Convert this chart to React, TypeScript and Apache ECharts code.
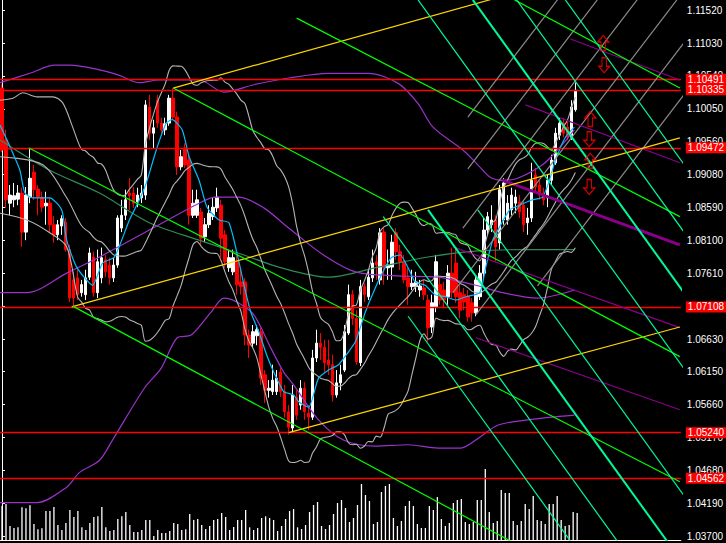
import React, { useEffect, useRef } from "react";
import * as echarts from "echarts";

// ---------- data ----------
// candles: [open, close, low, high]
const ohlc: number[][] = [
  [1.1036, 1.0944, 1.0941, 1.1042], [1.0959, 1.0870, 1.0858, 1.0974], [1.0865, 1.0877, 1.0847, 1.0892], [1.0870, 1.0876, 1.0859, 1.0895],
  [1.0871, 1.0880, 1.0862, 1.0892], [1.0880, 1.0822, 1.0800, 1.0888], [1.0822, 1.0877, 1.0810, 1.0889], [1.0874, 1.0902, 1.0865, 1.0947],
  [1.0911, 1.0885, 1.0870, 1.0922], [1.0886, 1.0874, 1.0847, 1.0892], [1.0874, 1.0859, 1.0852, 1.0882], [1.0861, 1.0865, 1.0833, 1.0882],
  [1.0865, 1.0833, 1.0821, 1.0873], [1.0833, 1.0818, 1.0806, 1.0846], [1.0818, 1.0833, 1.0810, 1.0840], [1.0831, 1.0842, 1.0818, 1.0847],
  [1.0837, 1.0796, 1.0793, 1.0843], [1.0796, 1.0724, 1.0718, 1.0803], [1.0751, 1.0724, 1.0711, 1.0763], [1.0754, 1.0729, 1.0721, 1.0766],
  [1.0732, 1.0744, 1.0726, 1.0751], [1.0729, 1.0754, 1.0721, 1.0766], [1.0755, 1.0791, 1.0751, 1.0799], [1.0785, 1.0732, 1.0726, 1.0793],
  [1.0732, 1.0778, 1.0724, 1.0796], [1.0754, 1.0784, 1.0746, 1.0799], [1.0781, 1.0763, 1.0755, 1.0788], [1.0773, 1.0754, 1.0744, 1.0784],
  [1.0754, 1.0773, 1.0748, 1.0784], [1.0773, 1.0843, 1.0769, 1.0847], [1.0828, 1.0847, 1.0822, 1.0870], [1.0847, 1.0870, 1.0840, 1.0885],
  [1.0880, 1.0876, 1.0855, 1.0902], [1.0880, 1.0865, 1.0858, 1.0889], [1.0867, 1.0877, 1.0859, 1.0888], [1.0873, 1.0880, 1.0865, 1.0892],
  [1.0877, 1.1011, 1.0870, 1.1018], [1.1008, 1.0969, 1.0959, 1.1026], [1.0969, 1.0977, 1.0947, 1.0989], [1.1018, 1.0984, 1.0977, 1.1026],
  [1.0984, 1.0974, 1.0969, 1.0992], [1.0974, 1.0983, 1.0966, 1.0992], [1.0984, 1.1021, 1.0980, 1.1026], [1.1021, 1.0993, 1.0989, 1.1036],
  [1.0993, 1.0919, 1.0907, 1.1001], [1.0919, 1.0934, 1.0914, 1.0944], [1.0947, 1.0922, 1.0917, 1.0954], [1.0929, 1.0847, 1.0833, 1.0937],
  [1.0847, 1.0865, 1.0843, 1.0885], [1.0847, 1.0870, 1.0843, 1.0885], [1.0852, 1.0813, 1.0803, 1.0858], [1.0815, 1.0833, 1.0807, 1.0843],
  [1.0833, 1.0850, 1.0828, 1.0862], [1.0845, 1.0859, 1.0840, 1.0873], [1.0858, 1.0874, 1.0852, 1.0888], [1.0862, 1.0813, 1.0784, 1.0870],
  [1.0818, 1.0778, 1.0769, 1.0825], [1.0769, 1.0784, 1.0763, 1.0796], [1.0763, 1.0784, 1.0758, 1.0796], [1.0778, 1.0744, 1.0729, 1.0788],
  [1.0748, 1.0741, 1.0729, 1.0766], [1.0748, 1.0669, 1.0654, 1.0754], [1.0669, 1.0654, 1.0635, 1.0677], [1.0657, 1.0674, 1.0650, 1.0684],
  [1.0668, 1.0677, 1.0654, 1.0684], [1.0674, 1.0605, 1.0595, 1.0680], [1.0610, 1.0587, 1.0568, 1.0617], [1.0587, 1.0590, 1.0576, 1.0602],
  [1.0585, 1.0602, 1.0580, 1.0625], [1.0585, 1.0605, 1.0580, 1.0617], [1.0614, 1.0585, 1.0577, 1.0620], [1.0585, 1.0555, 1.0546, 1.0595],
  [1.0555, 1.0532, 1.0521, 1.0565], [1.0531, 1.0580, 1.0525, 1.0595], [1.0577, 1.0550, 1.0543, 1.0587], [1.0565, 1.0590, 1.0558, 1.0602],
  [1.0590, 1.0555, 1.0543, 1.0599], [1.0553, 1.0547, 1.0528, 1.0565], [1.0547, 1.0635, 1.0543, 1.0647], [1.0635, 1.0657, 1.0629, 1.0677],
  [1.0657, 1.0651, 1.0632, 1.0672], [1.0651, 1.0628, 1.0614, 1.0662], [1.0632, 1.0625, 1.0610, 1.0662], [1.0625, 1.0580, 1.0570, 1.0640],
  [1.0580, 1.0598, 1.0576, 1.0617], [1.0598, 1.0610, 1.0587, 1.0625], [1.0617, 1.0674, 1.0614, 1.0684], [1.0672, 1.0729, 1.0669, 1.0744],
  [1.0729, 1.0694, 1.0684, 1.0736], [1.0694, 1.0629, 1.0625, 1.0706], [1.0628, 1.0741, 1.0623, 1.0751], [1.0741, 1.0729, 1.0718, 1.0746],
  [1.0726, 1.0755, 1.0721, 1.0766], [1.0754, 1.0776, 1.0748, 1.0796], [1.0778, 1.0773, 1.0751, 1.0788], [1.0751, 1.0821, 1.0744, 1.0828],
  [1.0822, 1.0769, 1.0744, 1.0828], [1.0769, 1.0773, 1.0751, 1.0796], [1.0770, 1.0807, 1.0751, 1.0818], [1.0821, 1.0793, 1.0781, 1.0828],
  [1.0793, 1.0778, 1.0766, 1.0803], [1.0778, 1.0751, 1.0746, 1.0788], [1.0754, 1.0741, 1.0714, 1.0769], [1.0741, 1.0746, 1.0736, 1.0766],
  [1.0741, 1.0748, 1.0733, 1.0763], [1.0736, 1.0742, 1.0726, 1.0751], [1.0739, 1.0729, 1.0721, 1.0751], [1.0721, 1.0680, 1.0659, 1.0729],
  [1.0681, 1.0717, 1.0672, 1.0729], [1.0711, 1.0778, 1.0703, 1.0788], [1.0744, 1.0721, 1.0714, 1.0754], [1.0736, 1.0721, 1.0709, 1.0748],
  [1.0726, 1.0761, 1.0714, 1.0773], [1.0761, 1.0732, 1.0724, 1.0799], [1.0776, 1.0726, 1.0717, 1.0799], [1.0732, 1.0706, 1.0694, 1.0744],
  [1.0729, 1.0718, 1.0706, 1.0739], [1.0726, 1.0696, 1.0689, 1.0736], [1.0717, 1.0702, 1.0689, 1.0724], [1.0702, 1.0751, 1.0697, 1.0758],
  [1.0726, 1.0761, 1.0721, 1.0773], [1.0761, 1.0825, 1.0754, 1.0843], [1.0825, 1.0845, 1.0818, 1.0852], [1.0833, 1.0840, 1.0822, 1.0862],
  [1.0840, 1.0800, 1.0778, 1.0847], [1.0806, 1.0885, 1.0796, 1.0892], [1.0840, 1.0895, 1.0833, 1.0902], [1.0840, 1.0865, 1.0833, 1.0877],
  [1.0855, 1.0877, 1.0847, 1.0888], [1.0865, 1.0874, 1.0850, 1.0885], [1.0867, 1.0852, 1.0843, 1.0877], [1.0862, 1.0833, 1.0822, 1.0870],
  [1.0836, 1.0843, 1.0818, 1.0858], [1.0843, 1.0899, 1.0837, 1.0925], [1.0907, 1.0889, 1.0882, 1.0917], [1.0892, 1.0877, 1.0870, 1.0899],
  [1.0880, 1.0870, 1.0862, 1.0888], [1.0873, 1.0899, 1.0859, 1.0907], [1.0899, 1.0929, 1.0892, 1.0937], [1.0925, 1.0969, 1.0922, 1.0977],
  [1.0966, 1.0984, 1.0959, 1.0992], [1.0984, 1.0969, 1.0963, 1.0992], [1.0978, 1.0963, 1.0959, 1.0986], [1.0963, 1.1008, 1.0959, 1.1018],
  [1.1004, 1.1033, 1.1001, 1.1044],
];

const volumes: number[] = [
  1020, 1080, 420, 360, 380, 980, 950, 1040, 480, 320,
  350, 870, 870, 990, 450, 300, 510, 900, 690, 870,
  380, 300, 510, 690, 710, 990, 380, 270, 300, 630,
  710, 840, 450, 240, 240, 300, 600, 600, 120, 300,
  210, 210, 270, 510, 480, 300, 320, 780, 600, 630,
  450, 330, 420, 600, 630, 810, 690, 300, 390, 600,
  600, 900, 380, 300, 360, 660, 710, 660, 600, 270,
  420, 630, 870, 930, 380, 330, 450, 840, 1050, 1140,
  420, 330, 450, 780, 1110,
  1200, 960, 540, 660, 1050, 1680, 1350, 1170, 480, 540,
  1440, 1620, 1680, 660, 420, 570, 1020, 1170, 1020, 480,
  360, 360, 1020, 900, 1290, 630, 420, 510, 1110, 1200,
  1230, 540, 480, 540, 1200, 1200, 2130, 840, 510, 570,
  1500, 1410, 1410, 570, 450, 570, 1080, 930, 1320, 600,
  570, 480, 1080, 1080, 1320, 600, 420, 450, 840, 810,
];

// axis ticks; the 1.07120 label is fully covered by the 1.07108 price box in the reference
const priceTicks: number[] = [
  1.037, 1.0419, 1.0468, 1.0517, 1.0566, 1.0615, 1.0663, 1.0712, 1.0761,
  1.081, 1.0859, 1.0908, 1.0956, 1.1005, 1.1054, 1.1103, 1.1152,
];
const priceLabels: number[] = [
  1.037, 1.0419, 1.0468, 1.0517, 1.0566, 1.0615, 1.0663, 1.0761,
  1.081, 1.0859, 1.0908, 1.0956, 1.1005, 1.1054, 1.1103, 1.1152,
];
const levelLines: number[] = [1.10491, 1.10335, 1.09472, 1.07108, 1.0524, 1.04562];

// fast moving average (blue), read points [bar, price]
const maFast: number[][] = [
  [-0.5, 1.0981], [2, 1.0949], [4.5, 1.0914], [5.75, 1.088], [7.75, 1.0873], [12, 1.0873], [15, 1.0855], [16.25, 1.081],
  [18.75, 1.077], [22.75, 1.0743], [25.25, 1.0776], [28.25, 1.0785], [32, 1.084], [34.5, 1.087], [36.25, 1.0895], [38.75, 1.0944],
  [41.25, 1.0984], [42.75, 1.0989], [45.25, 1.0974], [47, 1.0934], [49.5, 1.0899], [51.5, 1.0859], [54.5, 1.084], [57, 1.0836],
  [59.5, 1.0778], [60.75, 1.0744], [62.5, 1.0703], [64.5, 1.0674], [66.5, 1.0639], [68.25, 1.0614], [70.75, 1.0585], [73.25, 1.058],
  [74.5, 1.057], [77, 1.0562], [79.5, 1.0605], [82, 1.0617], [84.5, 1.0625], [86.5, 1.064], [88.75, 1.0659], [91.25, 1.0703],
  [93.75, 1.0739], [95.25, 1.0758], [97.75, 1.0784], [100, 1.0788], [102, 1.0769], [103.75, 1.0748], [106.25, 1.0743], [108.75, 1.0729],
  [111.5, 1.0726], [114, 1.0721], [116.5, 1.0726], [120, 1.0732], [121.5, 1.077], [123.25, 1.081], [125, 1.083], [127.5, 1.0855],
  [130, 1.0862], [133.25, 1.087], [135.75, 1.0874], [137.5, 1.0899], [139, 1.0929], [141.5, 1.0963], [143.75, 1.0978],
];

// Bollinger (grey) values on the first bars
const bbUpperStart: number[][] = [[-0.5, 1.1018], [2.75, 1.1021], [5.25, 1.1029], [8.75, 1.1023], [12.75, 1.1023], [15.25, 1.1014], [17.75, 1.0978]];
const bbMidStart: number[][] = [[-0.5, 1.0934], [10.25, 1.0922], [16.25, 1.0873]];
const bbLowerStart: number[][] = [[-0.5, 1.085], [6.25, 1.084], [12, 1.0821], [16.25, 1.08]];

// long bands (purple) read points
const purpleUpper: number[][] = [
  [-0.5, 1.1044], [7, 1.1058], [13.25, 1.107], [17, 1.107], [24.5, 1.1063], [29.5, 1.1055], [34.5, 1.1044], [39.5, 1.1048],
  [49.5, 1.1048], [55.75, 1.103], [63.25, 1.1041], [72, 1.1051], [82, 1.1058], [92, 1.1058], [99.5, 1.1043], [104.5, 1.1013],
  [108.25, 1.0978], [115.75, 1.0944], [119.5, 1.0922], [122.5, 1.0904], [125.75, 1.0899], [129.5, 1.0902], [135.75, 1.0922],
  [139.5, 1.0944], [143.75, 1.0974],
];
const purpleMid: number[][] = [
  [-0.5, 1.0732], [6.25, 1.0732], [16.25, 1.0761], [24.5, 1.0785], [37, 1.0825], [49.5, 1.0865], [53.75, 1.0874], [59.5, 1.0874],
  [65.75, 1.0858], [72, 1.0828], [80.75, 1.0788], [88.75, 1.0763], [99.5, 1.0757], [109.5, 1.0755], [119, 1.0743], [125.75, 1.0732],
  [134.5, 1.0724], [143.75, 1.0736],
];
const purpleLower: number[][] = [
  [-0.5, 1.042], [8.75, 1.042], [16.25, 1.0443], [19.5, 1.0465], [24.5, 1.0483], [27.75, 1.0513], [35.75, 1.059], [40, 1.062],
  [44, 1.0665], [47.5, 1.0669], [52.5, 1.0703], [55.75, 1.0724], [59, 1.0718], [63.25, 1.0699], [67.5, 1.065], [70.75, 1.0614],
  [73.25, 1.0595], [79.5, 1.0543], [85.75, 1.0513], [93.75, 1.0504], [102, 1.0506], [109.5, 1.0501], [115.25, 1.0501], [119, 1.0513],
  [124.5, 1.0535], [132, 1.0543], [143.75, 1.055],
];
const slowMa: number[][] = [
  [-0.5, 1.0959], [12, 1.0914], [24.5, 1.088], [37, 1.0836], [49.5, 1.081], [60.75, 1.0788], [69.5, 1.077], [82, 1.0755],
  [94.5, 1.077], [107, 1.0785], [119.5, 1.0794], [132, 1.0796], [143.75, 1.0796],
];

// drawn objects: each a segment [[bar, price], [bar, price]]
const yellowLines: number[][][] = [
  [[43, 1.1036], [170.25, 1.1246]],
  [[17.5, 1.0711], [170.25, 1.0962]],
  [[72, 1.0524], [170.25, 1.0681]],
];
const greenLines: number[][][] = [
  [[6.75, 1.0947], [170.25, 1.0451]],
  [[43, 1.1036], [170.25, 1.0637]],
  [[17.75, 1.0712], [170.25, 1.0228]],
  [[74, 1.114], [170.25, 1.0845]],
  [[128.75, 1.1167], [170.25, 1.1036]],
];
const cyanLines: number[][][] = [
  [[102, 1.0697], [153.5, 1.0275]],
  [[95.75, 1.0845], [165.25, 1.0275]],
  [[119.5, 1.0855], [190.25, 1.0275]],
  [[104.5, 1.1167], [213.25, 1.0275]],
  [[129.25, 1.1167], [238, 1.0275]],
  [[141.5, 1.1167], [250.25, 1.0275]],
];
const cyanThickLines: number[][][] = [
  [[107, 1.0855], [177.75, 1.0275]],
  [[118.25, 1.1167], [227, 1.0275]],
];
const greyLines: number[][][] = [
  [[117, 1.0993], [139.5, 1.1167]],
  [[117, 1.0916], [149.5, 1.1167]],
  [[115.75, 1.0828], [159.5, 1.1167]],
  [[113.25, 1.0732], [169.5, 1.1167]],
  [[119, 1.0699], [179.5, 1.1167]],
  [[134.5, 1.0742], [189.5, 1.1167]],
];
const purpleLines: number[][][] = [
  [[142.75, 1.1109], [170.25, 1.1048]],
  [[131.5, 1.1011], [170.25, 1.0925]],
  [[113.25, 1.08], [170.25, 1.068]],
  [[119, 1.0665], [170.25, 1.0558]],
];
const purpleThickLines: number[][][] = [[[125.75, 1.0899], [170.25, 1.0803]]];

const arrowsUp: number[][] = [[151, 1.1103], [147.75, 1.099], [147.75, 1.0928]];
const arrowsDown: number[][] = [[151.25, 1.107], [147.5, 1.096], [147.5, 1.0889]];

const SLOTS = 171;

export default function App() {
  const ref = useRef<HTMLDivElement>(null);
  useEffect(() => {
    document.body.style.margin = "0";
    document.body.style.background = "#000";
    const chart = echarts.init(ref.current!, null, { renderer: "svg" });
    const cats = Array.from({ length: SLOTS }, (_, i) => String(i));

    // grey Bollinger Bands (20, 2) from the closes
    const closes = ohlc.map((d) => d[1]);
    const bbU = [...bbUpperStart];
    const bbM = [...bbMidStart];
    const bbL = [...bbLowerStart];
    for (let i = 19; i < closes.length; i++) {
      const w = closes.slice(i - 19, i + 1);
      const m = w.reduce((a, b) => a + b, 0) / 20;
      const sd = Math.sqrt(w.reduce((a, b) => a + (b - m) * (b - m), 0) / 20);
      bbU.push([i, m + 2 * sd]);
      bbM.push([i, m]);
      bbL.push([i, m - 2 * sd]);
    }

    const line = (data: number[][], color: string, width = 1, z = 4, smooth: number | boolean = false) => ({
      type: "line",
      xAxisIndex: 1,
      yAxisIndex: 0,
      data,
      smooth,
      symbol: "none",
      showSymbol: false,
      silent: true,
      z,
      lineStyle: { color, width },
    });

    const segs = (list: number[][][], color: string, width = 1.2) => list.map((s) => line(s, color, width, 5));

    const option: any = {
      animation: false,
      backgroundColor: "#000000",
      grid: [
        { left: 0, right: 43, top: 0, bottom: 3 },
        { left: 0, right: 43, top: 440, bottom: 3 },
      ],
      xAxis: [
        {
          type: "category", gridIndex: 0, data: cats, boundaryGap: true,
          axisLine: { show: true, lineStyle: { color: "#ffffff", width: 1 } },
          axisTick: { show: false }, axisLabel: { show: false }, splitLine: { show: false },
        },
        { type: "value", gridIndex: 0, min: -0.5, max: SLOTS - 0.5, show: false },
        { type: "category", gridIndex: 1, data: cats, boundaryGap: true, show: false },
      ],
      yAxis: [
        {
          type: "value", gridIndex: 0, position: "right", min: 1.03645, max: 1.11669,
          axisLine: { show: true, lineStyle: { color: "#ffffff" } },
          axisTick: { show: true, customValues: priceTicks, length: 3, lineStyle: { color: "#ffffff" } },
          axisLabel: {
            show: true, customValues: priceLabels, color: "#ffffff", fontSize: 10,
            fontFamily: "Liberation Sans", margin: 6,
            formatter: (v: number) => v.toFixed(5),
          },
          splitLine: { show: false },
        },
        { type: "value", gridIndex: 1, min: 0, max: 3000, show: false },
      ],
      series: [
        {
          type: "bar", xAxisIndex: 2, yAxisIndex: 1, data: volumes, barWidth: 1.3, silent: true, z: 1,
          itemStyle: { color: "#ffffff" },
        },
        {
          type: "candlestick", xAxisIndex: 0, yAxisIndex: 0, data: ohlc, barWidth: 3, silent: true, z: 2,
          itemStyle: { color: "#ffffff", color0: "#ff0000", borderColor: "#ffffff", borderColor0: "#ff0000", borderWidth: 1 },
        },
        line(slowMa, "#2e8b57", 1.2, 3, 0.3),
        line(purpleUpper, "#9933cc", 1.2, 3, 0.3),
        line(purpleMid, "#9933cc", 1.2, 3, 0.3),
        line(purpleLower, "#9933cc", 1.2, 3, 0.3),
        line(bbU, "#b4b4b4", 1.1, 3, 0.3),
        line(bbM, "#b4b4b4", 1.1, 3, 0.3),
        line(bbL, "#b4b4b4", 1.1, 3, 0.3),
        line(maFast, "#00bfff", 1.2, 4, 0.2),
        ...segs(greyLines, "#8c8c8c"),
        ...segs(purpleLines, "#8b008b"),
        ...segs(purpleThickLines, "#8b008b", 3),
        ...segs(yellowLines, "#ffd700"),
        ...segs(greenLines, "#00ff00"),
        ...segs(cyanLines, "#00fa9a"),
        ...segs(cyanThickLines, "#00fa9a", 2),
        {
          type: "scatter", xAxisIndex: 1, yAxisIndex: 0, data: arrowsUp, silent: true, z: 6,
          symbol: "path://M5,0 L10,6 L7,6 L7,14 L3,14 L3,6 L0,6 Z", symbolSize: [11, 15],
          itemStyle: { color: "rgba(0,0,0,0)", borderColor: "#ff0000", borderWidth: 1.3 },
        },
        {
          type: "scatter", xAxisIndex: 1, yAxisIndex: 0, data: arrowsDown, silent: true, z: 6,
          symbol: "path://M3,0 L7,0 L7,8 L10,8 L5,14 L0,8 L3,8 Z", symbolSize: [11, 15],
          itemStyle: { color: "rgba(0,0,0,0)", borderColor: "#ff0000", borderWidth: 1.3 },
        },
        {
          type: "line", xAxisIndex: 1, yAxisIndex: 0, data: [[0, levelLines[0]]], symbol: "none", showSymbol: false,
          lineStyle: { opacity: 0 }, silent: true, z: 8,
          markLine: {
            silent: true, symbol: ["none", "none"], animation: false, precision: 5,
            lineStyle: { color: "#ff0000", width: 1.3, type: "solid" },
            label: {
              show: true, position: "end", distance: 5,
              formatter: (p: any) => Number(p.value).toFixed(5),
              color: "#ffffff", backgroundColor: "#ff0000", padding: [1, 2, 0, 2],
              fontSize: 10, fontFamily: "Liberation Sans",
            },
            emphasis: { disabled: true },
            data: levelLines.map((v) => ({ yAxis: v })),
          },
        },
      ],
    };
    chart.setOption(option);
    return () => chart.dispose();
  }, []);
  return (
    <div
      ref={ref}
      style={{ position: "fixed", left: 0, top: 0, width: 726, height: 543, background: "#000" }}
    />
  );
}
